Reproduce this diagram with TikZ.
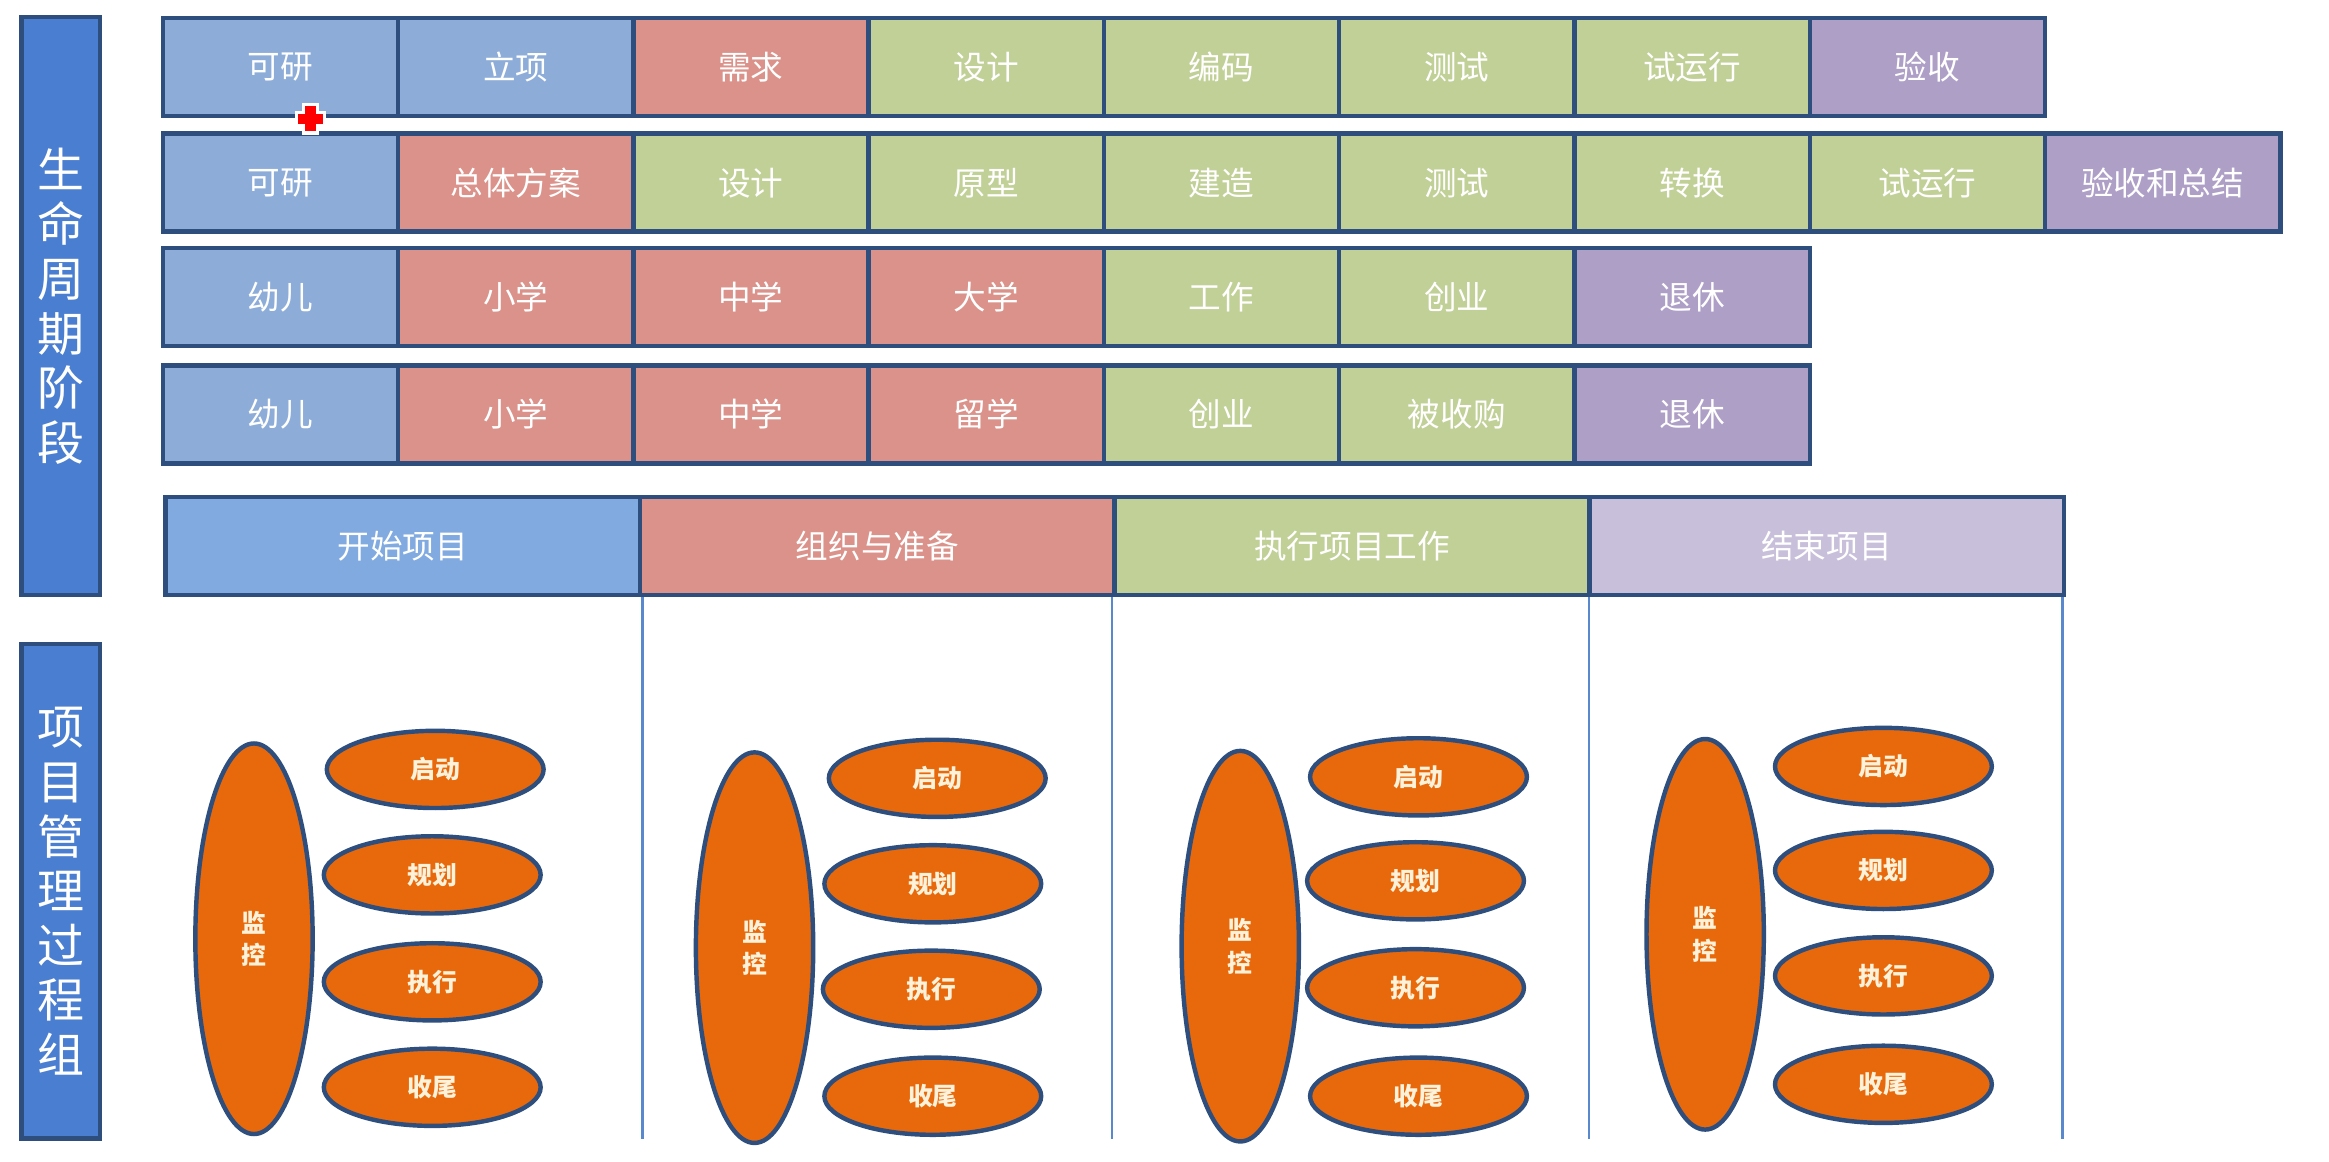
\documentclass[tikz,border=0pt]{standalone}
\usepackage{fontspec}
\newfontfamily\cjk{Noto Sans CJK SC}
\usepackage{xcolor}
\usepackage{tikz}
\usetikzlibrary{shapes.geometric,positioning}

\definecolor{frameblue}{HTML}{2E4E7E}
\definecolor{barblue}{HTML}{4A7ED0}
\definecolor{stageblue}{HTML}{8DADD8}
\definecolor{stagered}{HTML}{DA928A}
\definecolor{stagegreen}{HTML}{C0D096}
\definecolor{stagepurple}{HTML}{AE9FC7}
\definecolor{phaseblue}{HTML}{80AAE0}
\definecolor{phaselilac}{HTML}{C8BFDA}
\definecolor{procorange}{HTML}{E8690C}
\definecolor{proctext}{HTML}{FFF2DA}
\definecolor{sepline}{HTML}{5A88CC}

\tikzset{
    sidebar/.style={draw=frameblue, fill=barblue, line width=1.6pt, minimum width=1.06cm,
        inner sep=0pt, text=white, align=center, font=\cjk\fontsize{18}{20.9}\selectfont},
    cell/.style={draw=frameblue, line width=1.7pt, minimum width=3.168cm, minimum height=1.32cm,
        inner sep=0pt, text=white, font=\cjk\fontsize{12.5}{14}\selectfont},
    phase/.style={cell, minimum width=6.39cm},
    blu/.style={fill=stageblue},
    red/.style={fill=stagered},
    grn/.style={fill=stagegreen},
    pur/.style={fill=stagepurple},
    mon/.style={ellipse, draw=frameblue, fill=procorange, line width=1.7pt, minimum width=1.58cm,
        minimum height=5.26cm, inner sep=0pt, text=proctext, align=center,
        font=\cjk\bfseries\fontsize{9.5}{12.5}\selectfont},
    proc/.style={mon, minimum width=2.92cm, minimum height=1.04cm},
    sep/.style={draw=sepline, line width=0.9pt}
}

\begin{document}
\begin{tikzpicture}[x=0.02cm, y=-0.02cm]
    \useasboundingbox (0,0) rectangle (1568,782);

    % side labels
    \node[sidebar, minimum height=7.78cm] (life) at (41,206) {生\\命\\周\\期\\阶\\段};
    \node[sidebar, minimum height=6.66cm] (pmg) at (41,600) {项\\目\\管\\理\\过\\程\\组};

    % row 1
    \node[cell, blu] (a1) at (188.8,45) {可研};
    \node[cell, blu] (a2) at (347.2,45) {立项};
    \node[cell, red] (a3) at (505.6,45) {需求};
    \node[cell, grn] (a4) at (664.0,45) {设计};
    \node[cell, grn] (a5) at (822.4,45) {编码};
    \node[cell, grn] (a6) at (980.8,45) {测试};
    \node[cell, grn] (a7) at (1139.2,45) {试运行};
    \node[cell, pur] (a8) at (1297.6,45) {验收};

    % row 2
    \node[cell, blu] (b1) at (188.8,123) {可研};
    \node[cell, red] (b2) at (347.2,123) {总体方案};
    \node[cell, grn] (b3) at (505.6,123) {设计};
    \node[cell, grn] (b4) at (664.0,123) {原型};
    \node[cell, grn] (b5) at (822.4,123) {建造};
    \node[cell, grn] (b6) at (980.8,123) {测试};
    \node[cell, grn] (b7) at (1139.2,123) {转换};
    \node[cell, grn] (b8) at (1297.6,123) {试运行};
    \node[cell, pur] (b9) at (1456.0,123) {验收和总结};

    % row 3
    \node[cell, blu] (c1) at (188.8,200) {幼儿};
    \node[cell, red] (c2) at (347.2,200) {小学};
    \node[cell, red] (c3) at (505.6,200) {中学};
    \node[cell, red] (c4) at (664.0,200) {大学};
    \node[cell, grn] (c5) at (822.4,200) {工作};
    \node[cell, grn] (c6) at (980.8,200) {创业};
    \node[cell, pur] (c7) at (1139.2,200) {退休};

    % row 4
    \node[cell, blu] (d1) at (188.8,279) {幼儿};
    \node[cell, red] (d2) at (347.2,279) {小学};
    \node[cell, red] (d3) at (505.6,279) {中学};
    \node[cell, red] (d4) at (664.0,279) {留学};
    \node[cell, grn] (d5) at (822.4,279) {创业};
    \node[cell, grn] (d6) at (980.8,279) {被收购};
    \node[cell, pur] (d7) at (1139.2,279) {退休};

    % project phases
    \node[phase, fill=phaseblue] (ph1) at (271.25,367.5) {开始项目};
    \node[phase, fill=stagered] (ph2) at (590.75,367.5) {组织与准备};
    \node[phase, fill=stagegreen] (ph3) at (910.25,367.5) {执行项目工作};
    \node[phase, fill=phaselilac] (ph4) at (1229.75,367.5) {结束项目};
    \coordinate (bot) at (0,767);
    \draw[sep] (ph1.south east) -- (ph1.south east |- bot);
    \draw[sep] ([xshift=-0.07cm]ph2.south east) -- ([xshift=-0.07cm]ph2.south east |- bot);
    \draw[sep] ([xshift=-0.03cm]ph3.south east) -- ([xshift=-0.03cm]ph3.south east |- bot);
    \draw[sep] ([xshift=-0.05cm]ph4.south east) -- ([xshift=-0.05cm]ph4.south east |- bot);

    % process groups
    \node[mon] (mon1) at (171,632) {监\\控};
    \node[proc] (ini1) at (293,518) {启动};
    \node[proc] (pla1) at (291,589) {规划};
    \node[proc] (exe1) at (291,661) {执行};
    \node[proc] (clo1) at (291,732) {收尾};

    \node[mon] (mon2) at (508,638) {监\\控};
    \node[proc] (ini2) at (631,524) {启动};
    \node[proc] (pla2) at (628,595) {规划};
    \node[proc] (exe2) at (627,666) {执行};
    \node[proc] (clo2) at (628,738) {收尾};

    \node[mon] (mon3) at (835,637) {监\\控};
    \node[proc] (ini3) at (955,523) {启动};
    \node[proc] (pla3) at (953,593) {规划};
    \node[proc] (exe3) at (953,665) {执行};
    \node[proc] (clo3) at (955,738) {收尾};

    \node[mon] (mon4) at (1148,629) {监\\控};
    \node[proc] (ini4) at (1268,516) {启动};
    \node[proc] (pla4) at (1268,586) {规划};
    \node[proc] (exe4) at (1268,657) {执行};
    \node[proc] (clo4) at (1268,730) {收尾};

    % pointer mark
    \filldraw[draw=white, fill=red, line width=1.2pt]
        (204.5,70.5) -- (213.5,70.5) -- (213.5,75.5) -- (218.5,75.5) -- (218.5,84.5)
        -- (213.5,84.5) -- (213.5,89.5) -- (204.5,89.5) -- (204.5,84.5) -- (199.5,84.5)
        -- (199.5,75.5) -- (204.5,75.5) -- cycle;
\end{tikzpicture}
\end{document}
